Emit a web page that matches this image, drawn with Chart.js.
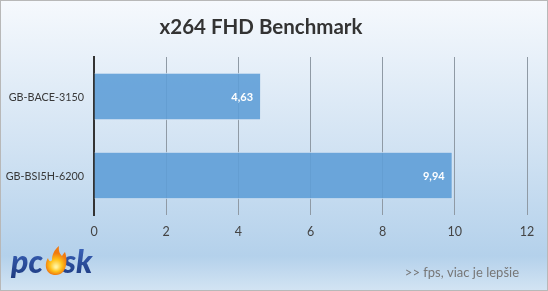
<!DOCTYPE html>
<html>
<head>
<meta charset="utf-8">
<script src="https://cdn.jsdelivr.net/npm/chart.js@4.4.0/dist/chart.umd.min.js"></script>
<style>
  html, body { margin: 0; padding: 0; background: #fff; }
  #wrap { width: 548px; height: 291px; position: relative; }
</style>
</head>
<body>
<div id="wrap"><canvas id="benchChart" width="548" height="291"></canvas></div>
<script>
// chart data
const categories = ['GB-BACE-3150', 'GB-BSI5H-6200'];
const fpsValues = [4.63, 9.94];
const valueLabels = ['4,63', '9,94'];
const xTicks = [0, 2, 4, 6, 8, 10, 12];

const chartTitle = 'x264 FHD Benchmark';
const footNote = '>> fps, viac je lepšie';
const FONT = "Lato, 'Open Sans', sans-serif";

// background gradient + frame
const backgroundPlugin = {
    id: 'bgPlugin',
    beforeDraw(chart) {
        const ctx = chart.ctx;
        const h = chart.height, w = chart.width;
        const g = ctx.createLinearGradient(0, 0, 0, h);
        g.addColorStop(0, '#f6f9fd');
        g.addColorStop(0.5, '#d2e3f3');
        g.addColorStop(0.88, '#b4d1eb');
        g.addColorStop(1, '#d3e4f3');
        ctx.save();
        ctx.fillStyle = g;
        ctx.fillRect(0, 0, w, h);
        ctx.strokeStyle = '#b8b8b8';
        ctx.lineWidth = 1;
        ctx.strokeRect(0.5, 0.5, w - 1, h - 1);
        ctx.restore();
    }
};

// title, value labels, footer and logo
const textPlugin = {
    id: 'textPlugin',
    afterDatasetsDraw(chart) {
        const ctx = chart.ctx;
        ctx.save();
        // title
        ctx.fillStyle = '#333';
        ctx.font = 'bold 20.5px ' + FONT;
        ctx.textAlign = 'center';
        ctx.textBaseline = 'middle';
        ctx.fillText(chartTitle, 261, 27);

        // category labels (right aligned against the axis)
        ctx.font = '10.8px ' + FONT;
        ctx.fillStyle = '#383838';
        ctx.textAlign = 'right';
        const yScale = chart.scales.y;
        categories.forEach((c, i) => {
            ctx.fillText(c, 84, yScale.getPixelForTick(i) + 1);
        });

        // value labels inside bars
        const meta = chart.getDatasetMeta(0);
        ctx.font = 'bold 11px ' + FONT;
        ctx.fillStyle = '#fff';
        meta.data.forEach((bar, i) => {
            ctx.fillText(valueLabels[i], bar.x - 8, bar.y + 1);
        });

        // footnote
        ctx.font = '13px ' + FONT;
        ctx.fillStyle = '#777';
        ctx.fillText(footNote, 519, 273);

        // logo
        ctx.font = 'italic 900 32px ' + FONT;
        ctx.textAlign = 'left';
        ctx.textBaseline = 'alphabetic';
        const lg = ctx.createLinearGradient(0, 248, 0, 278);
        lg.addColorStop(0, '#3a62b8');
        lg.addColorStop(1, '#1d3a80');
        ctx.fillStyle = lg;
        ctx.fillText('pc', 11, 273);
        ctx.fillText('sk', 63, 273);
        // flame
        const fg = ctx.createRadialGradient(56, 267, 1, 56, 264, 11);
        fg.addColorStop(0, '#fff3a0');
        fg.addColorStop(0.5, '#ffc21a');
        fg.addColorStop(1, '#f07a10');
        ctx.fillStyle = fg;
        ctx.beginPath();
        ctx.moveTo(56, 275);
        ctx.bezierCurveTo(45, 275, 44, 264, 48, 258);
        ctx.bezierCurveTo(49, 262, 51, 262, 52, 260);
        ctx.bezierCurveTo(52, 255, 54, 250, 59, 246);
        ctx.bezierCurveTo(58, 252, 61, 255, 62, 256);
        ctx.bezierCurveTo(63, 254, 64, 253, 65, 252);
        ctx.bezierCurveTo(68, 260, 67, 275, 56, 275);
        ctx.fill();
        ctx.restore();
    }
};

new Chart(document.getElementById('benchChart'), {
    type: 'bar',
    data: {
        labels: categories,
        datasets: [{
            data: fpsValues,
            backgroundColor: 'rgba(95, 158, 215, 0.9)',
            borderColor: '#dbe8f5',
            borderWidth: 1,
            borderSkipped: 'left',
            categoryPercentage: 1.0,
            barPercentage: 0.6
        }]
    },
    options: {
        indexAxis: 'y',
        responsive: false,
        animation: false,
        layout: { padding: { left: 0, right: 21, top: 57, bottom: 46 } },
        plugins: {
            legend: { display: false },
            title: { display: false },
            tooltip: { enabled: false }
        },
        scales: {
            x: {
                min: 0,
                max: 12,
                afterBuildTicks: (scale) => { scale.ticks = xTicks.map(v => ({ value: v })); },
                grid: {
                    color: '#8f9aa5',
                    lineWidth: 1,
                    tickLength: 0,
                    drawOnChartArea: true
                },
                border: { display: false },
                ticks: {
                    color: '#444',
                    font: { family: FONT, size: 12.5 },
                    padding: 9
                },
                afterFit: (scale) => { scale.height = 30; }
            },
            y: {
                grid: { display: false },
                border: { display: true, color: '#333', width: 2 },
                ticks: { display: false },
                afterFit: (scale) => { scale.width = 94; }
            }
        }
    },
    plugins: [backgroundPlugin, textPlugin]
});
</script>
</body>
</html>
